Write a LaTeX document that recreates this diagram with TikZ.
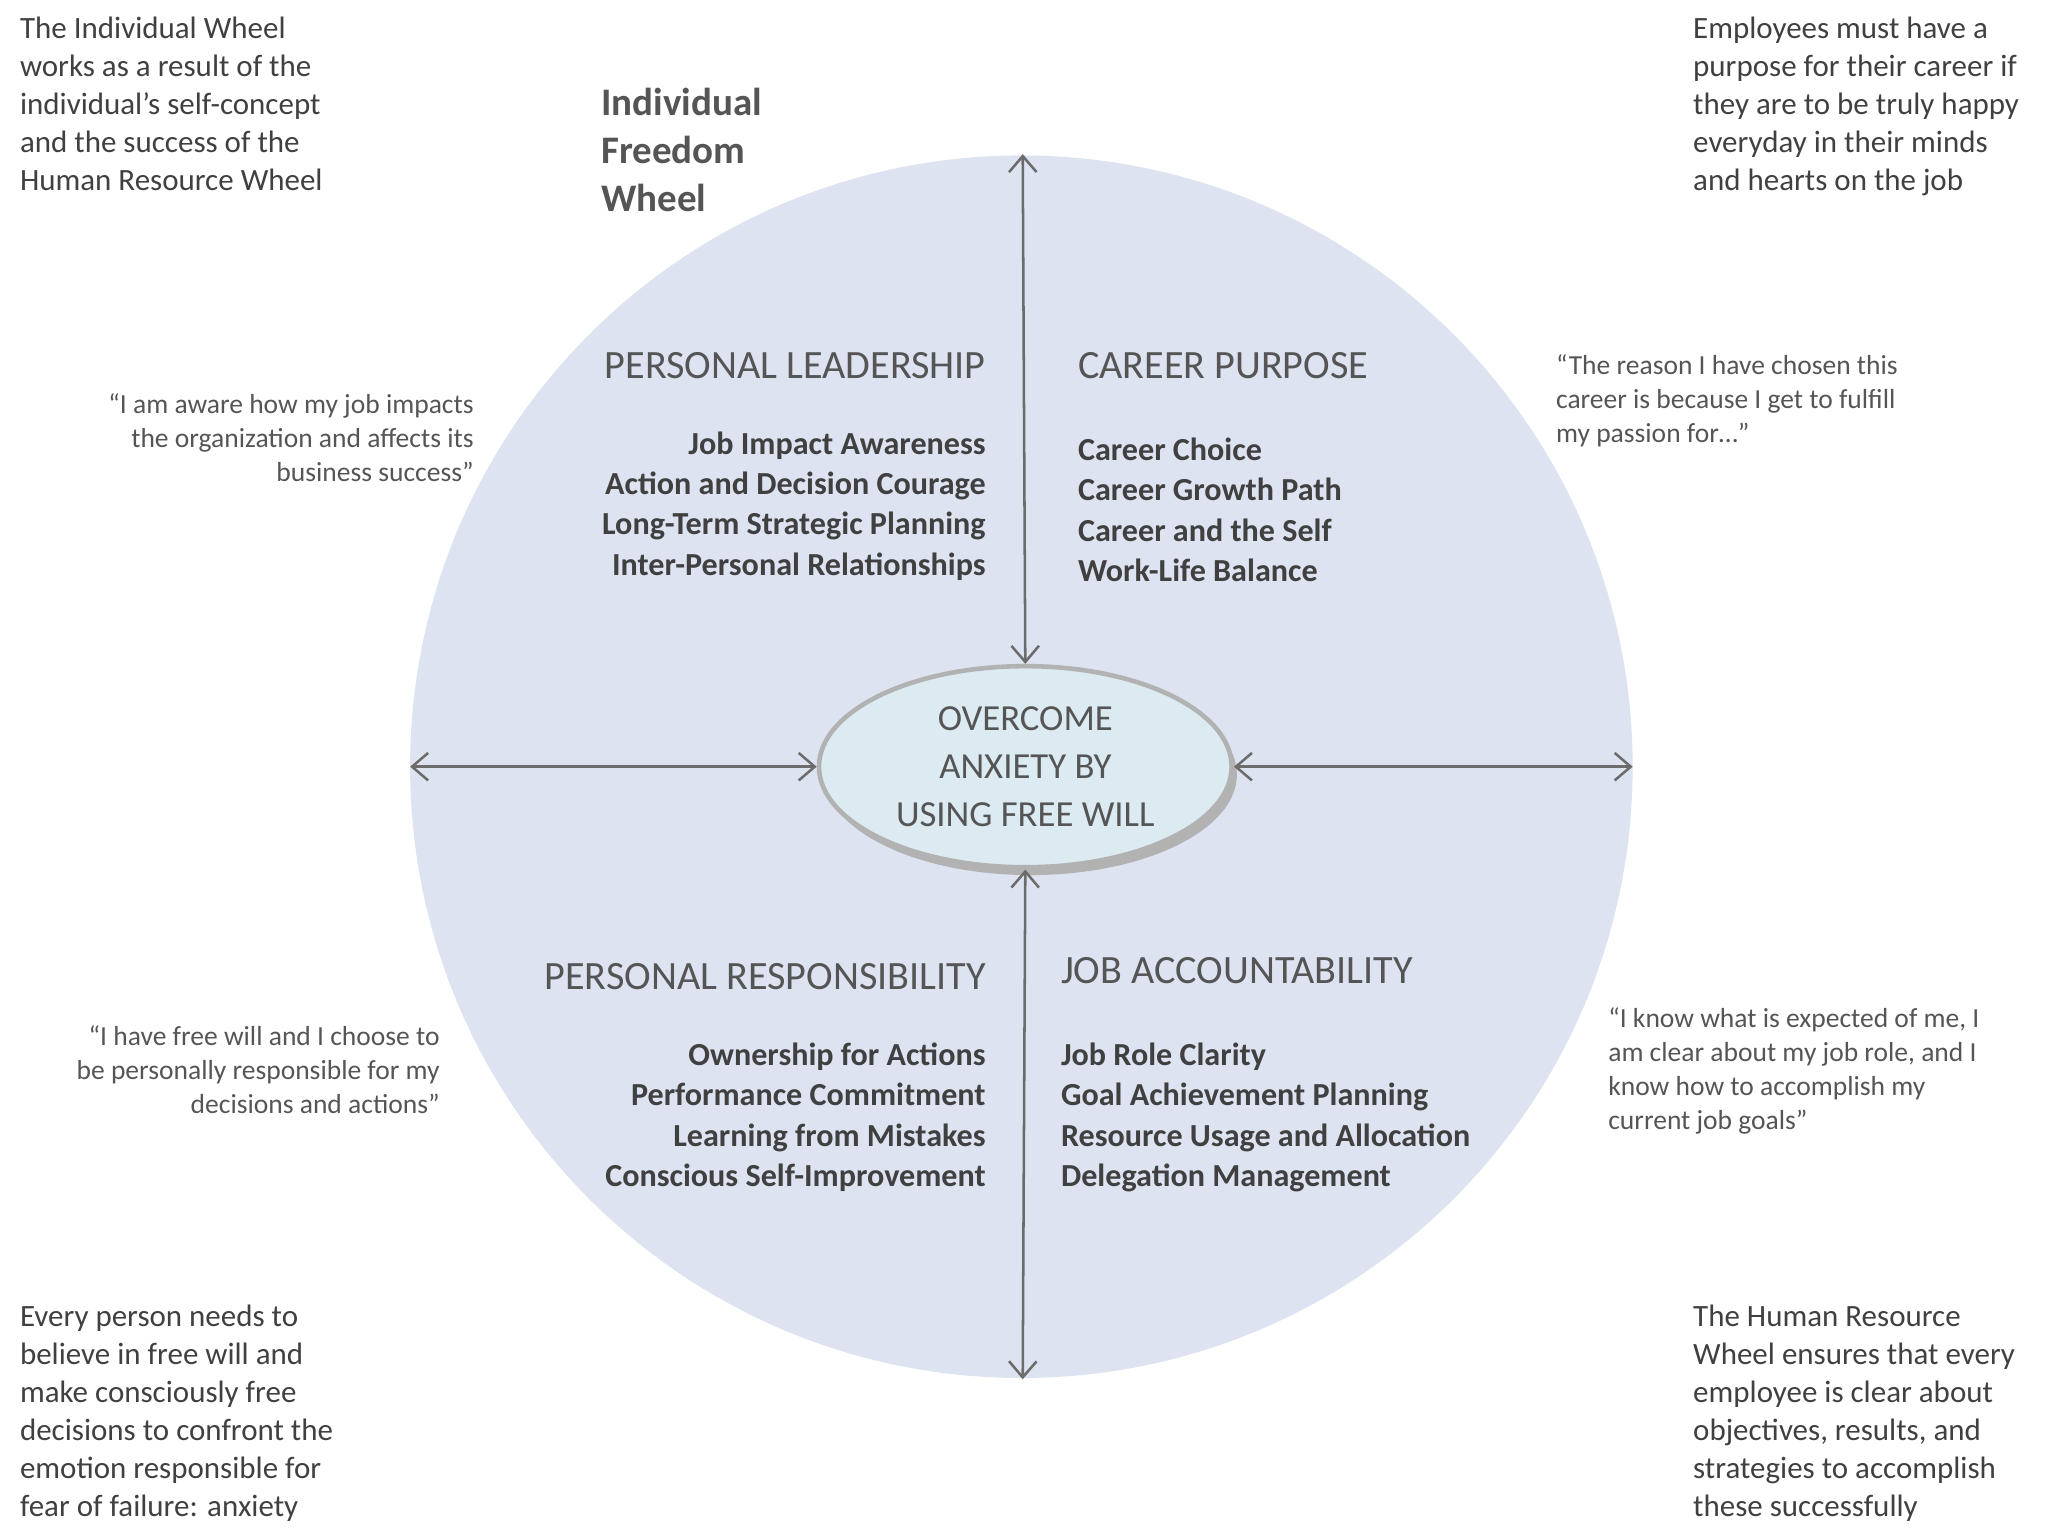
\documentclass[tikz,border=0pt]{standalone}
\usepackage{fontspec}
\setmainfont{Carlito}
\usetikzlibrary{arrows.meta,shapes.geometric}
\definecolor{wheel}{HTML}{DDE3F0}
\definecolor{ctr}{HTML}{DCEBF2}
\definecolor{txt}{HTML}{404040}
\definecolor{qt}{HTML}{555555}
\tikzset{
  corner/.style={inner sep=0pt,text=txt,align=left,font={\fontsize{13.5}{16.5}\selectfont}},
  quote/.style={inner sep=0pt,text=qt,font={\fontsize{12}{14.8}\selectfont}},
  head/.style={inner sep=0pt,text=qt,font={\fontsize{17.5}{21}\selectfont}},
  items/.style={inner sep=0pt,text=txt,font={\bfseries\fontsize{14}{17.6}\selectfont}},
  arr/.style={draw=gray!85!black,line width=1.1pt,{Straight Barb[length=7pt,width=12pt]}-{Straight Barb[length=7pt,width=12pt]}}
}
\begin{document}
\begin{tikzpicture}[x=0.02cm,y=-0.02cm]
\useasboundingbox (0,0) rectangle (1568,1176);
\fill[wheel] (782,587) circle[radius=468];
\coordinate (top) at (783,118);
\coordinate (bot) at (783,1056);
\coordinate (lft) at (314,587);
\coordinate (rgt) at (1250,587);
\fill[gray!60] (789,593) ellipse[x radius=158,y radius=77];
\node[ellipse,draw=gray!60,line width=2pt,fill=ctr,minimum width=316\pgflinewidth,inner sep=0pt,
  minimum width=6.32cm,minimum height=3.08cm] (c) at (785,587) {};
\node[align=center,text=qt,font={\fontsize{16}{21}\selectfont}] at (c) {OVERCOME\\ANXIETY BY\\USING FREE WILL};
\draw[arr] (top) -- (c.north);
\draw[arr] (c.south) -- (bot);
\draw[arr] (lft) -- (c.west);
\draw[arr] (c.east) -- (rgt);

\node[corner,anchor=north west] (tl) at (15,13) {The Individual Wheel\\works as a result of the\\individual’s self-concept\\and the success of the\\Human Resource Wheel};
\node[corner,anchor=north west] (tr) at (1296,13) {Employees must have a\\purpose for their career if\\they are to be truly happy\\everyday in their minds\\and hearts on the job};
\node[corner,anchor=north west] (bl) at (15,999) {Every person needs to\\believe in free will and\\make consciously free\\decisions to confront the\\emotion responsible for\\fear of failure: anxiety};
\node[corner,anchor=north west] (br) at (1296,999) {The Human Resource\\Wheel ensures that every\\employee is clear about\\objectives, results, and\\strategies to accomplish\\these successfully};

\node[inner sep=0pt,text=qt,align=left,anchor=north west,font={\bfseries\fontsize{17}{21}\selectfont}] (title) at (460,67) {Individual\\Freedom\\Wheel};

\node[quote,align=right,anchor=north east] (q1) at (363,301) {“I am aware how my job impacts\\the organization and affects its\\business success”};
\node[quote,align=right,anchor=north east] (q2) at (337,785) {“I have free will and I choose to\\be personally responsible for my\\decisions and actions”};
\node[quote,align=left,anchor=north west] (q3) at (1191,271) {“The reason I have chosen this\\career is because I get to fulfill\\my passion for…”};
\node[quote,align=left,anchor=north west] (q4) at (1231,771) {“I know what is expected of me, I\\am clear about my job role, and I\\know how to accomplish my\\current job goals”};

\node[head,anchor=east] (h1) at (755,280) {PERSONAL LEADERSHIP};
\node[head,anchor=west] (h2) at (825,280) {CAREER PURPOSE};
\node[head,anchor=east] (h3) at (755,748) {PERSONAL RESPONSIBILITY};
\node[head,anchor=west] (h4) at (812,743) {JOB ACCOUNTABILITY};

\node[items,align=right,anchor=north east] (i1) at (755,330) {Job Impact Awareness\\Action and Decision Courage\\Long-Term Strategic Planning\\Inter-Personal Relationships};
\node[items,align=left,anchor=north west] (i2) at (825,335) {Career Choice\\Career Growth Path\\Career and the Self\\Work-Life Balance};
\node[items,align=right,anchor=north east] (i3) at (755,798) {Ownership for Actions\\Performance Commitment\\Learning from Mistakes\\Conscious Self-Improvement};
\node[items,align=left,anchor=north west] (i4) at (812,798) {Job Role Clarity\\Goal Achievement Planning\\Resource Usage and Allocation\\Delegation Management};
\end{tikzpicture}
\end{document}
